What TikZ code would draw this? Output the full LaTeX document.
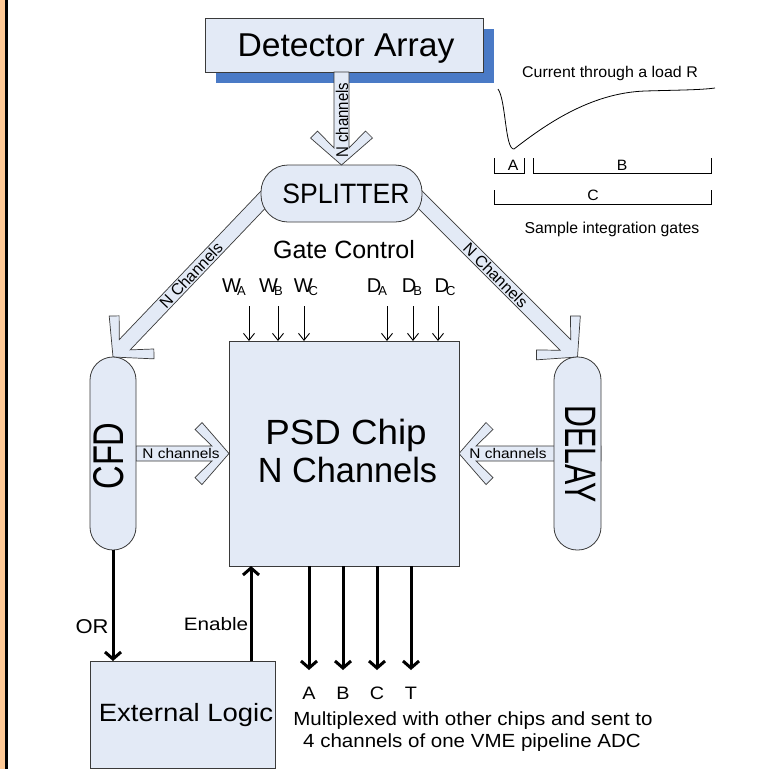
\documentclass[tikz,border=0pt]{standalone}
\usepackage{fontspec}
\setmainfont{Liberation Sans}
\usepackage{graphicx}
\usetikzlibrary{calc,arrows.meta,shadows,backgrounds}
\definecolor{boxC}{HTML}{E3EAF6}
\definecolor{lineC}{HTML}{3A3A3A}
\definecolor{shadowC}{HTML}{4A7AC6}
\definecolor{orangeC}{HTML}{FFC995}
\newcommand\mytxt[3]{\scalebox{#2}[1]{\fontsize{#1}{#1}\selectfont #3}}
\newcommand\blockarrow[2]{%
  \filldraw[barrowstyle] let \p1=(#1), \p2=(#2),
    \n1={atan2(\y2-\y1,\x2-\x1)}, \n2={veclen(\x2-\x1,\y2-\y1)} in
  [shift={(\p2)}, rotate=\n1] (0,0) -- (-27,-31) -- (-34,-24) -- (-17,-7.5)
  -- (-\n2,-7.5) -- (-\n2,7.5) -- (-17,7.5) -- (-34,24) -- (-27,31) -- cycle;}
\begin{document}
\begin{tikzpicture}[x=1pt,y=1pt,
  box/.style={draw=lineC, fill=boxC, line width=0.8pt, inner sep=0pt, outer sep=0pt},
  barrowstyle/.style={draw=lineC, fill=boxC, line width=0.7pt, line join=miter},
  thinarrow/.style={line width=0.9pt, -{Straight Barb[length=7pt,width=11pt]}},
  thickarrow/.style={line width=3pt, -{Straight Barb[length=7pt,width=16pt]}},
  lbl/.style={anchor=base, inner sep=0pt}]
\useasboundingbox (0,0) rectangle (764,-769);
\begin{scope}[on background layer]
\fill[white] (0,0) rectangle (764,-769);
\fill[orangeC] (0,0) rectangle (5,-769);
\fill[black] (5,0) rectangle (7.5,-769);
\end{scope}

% ---------- main blocks ----------
\node[box, general shadow={fill=shadowC, shadow xshift=10.5pt, shadow yshift=-10.5pt},
      minimum width=278, minimum height=54] (det) at (344,-45) {};
\node[lbl] at (346,-56) {\mytxt{33}{1.02}{Detector Array}};

\node[box, rounded corners=27, minimum width=161, minimum height=57] (split) at (341.5,-193.5) {};
\node[lbl] at (346,-203) {\mytxt{28}{0.95}{SPLITTER}};

\node[box, rounded corners=23, minimum width=46, minimum height=193] (cfd) at (113,-453.5) {};
\node[rotate=90, inner sep=0pt] at (108.5,-456) {\mytxt{43}{0.76}{CFD}};

\node[box, rounded corners=23, minimum width=47, minimum height=193] (delay) at (577.5,-453.5) {};
\node[rotate=-90, inner sep=0pt] at (581,-454) {\mytxt{44}{0.69}{DELAY}};

\node[box, minimum width=230, minimum height=225] (psd) at (344,-453.5) {};
\node[lbl] at (346,-444) {\mytxt{35}{1.05}{PSD Chip}};
\node[lbl] at (347.5,-482) {\mytxt{35}{0.98}{N Channels}};

\node[box, minimum width=185, minimum height=107] (ext) at (182.5,-714.5) {};
\node[lbl] at (186,-721) {\mytxt{25}{1.1}{External Logic}};

% ---------- block arrows ----------
\coordinate (dtop) at (split.north |- det.south);
\blockarrow{dtop}{split.north}
\node[rotate=90, inner sep=0pt] at (342,-120) {\mytxt{17}{0.88}{N channels}};

\coordinate (sL) at ($(split.west)+(8,0)$);
\coordinate (sR) at ($(split.east)+(-8,0)$);
\begin{scope}[on background layer]
\blockarrow{sL}{cfd.north}
\blockarrow{sR}{delay.north}
\blockarrow{cfd.east}{psd.west}
\blockarrow{delay.east}{psd.east}
\end{scope}
\path (sL) -- node[pos=0.5, sloped, inner sep=0pt] {\mytxt{16}{1}{N Channels}} (cfd.north);
\path (sR) -- node[pos=0.5, sloped, inner sep=0pt] {\mytxt{16}{1}{N Channels}} (delay.north);
\node[inner sep=0pt] at (181,-453.5) {\mytxt{14}{1.1}{N channels}};
\node[inner sep=0pt] at (508,-453.5) {\mytxt{14}{1.1}{N channels}};

% ---------- gate control ----------
\node[lbl] at (344,-258) {\mytxt{25}{1}{Gate Control}};
\node[lbl] at (234,-292) {\mytxt{20}{1}{W\kern-4pt\raisebox{-3pt}{\fontsize{13}{13}\selectfont A}}};
\node[lbl] at (271,-292) {\mytxt{20}{1}{W\kern-4pt\raisebox{-3pt}{\fontsize{13}{13}\selectfont B}}};
\node[lbl] at (306,-292) {\mytxt{20}{1}{W\kern-4pt\raisebox{-3pt}{\fontsize{13}{13}\selectfont C}}};
\node[lbl] at (377,-292) {\mytxt{20}{1}{D\kern-3pt\raisebox{-3pt}{\fontsize{13}{13}\selectfont A}}};
\node[lbl] at (412,-292) {\mytxt{20}{1}{D\kern-3pt\raisebox{-3pt}{\fontsize{13}{13}\selectfont B}}};
\node[lbl] at (445,-292) {\mytxt{20}{1}{D\kern-3pt\raisebox{-3pt}{\fontsize{13}{13}\selectfont C}}};
\foreach \gx/\gn in {249/wa,278/wb,304/wc,387/da,413/db,438/dc}{
  \coordinate (g\gn) at (\gx,-306);
  \draw[thinarrow] (g\gn) -- (g\gn |- psd.north);
}

% ---------- CFD -> external logic, enable ----------
\draw[thickarrow] (cfd.south) -- (cfd.south |- ext.north);
\node[lbl] at (92,-633) {\mytxt{20}{1.1}{OR}};
\coordinate (en) at ($(ext.north east)+(-24,0)$);
\draw[thickarrow] (en) -- (en |- psd.south);
\node[lbl] at (216,-630) {\mytxt{18}{1.15}{Enable}};

% ---------- outputs ----------
\foreach \ox/\on in {309/A,343/B,377/C,411/T}{
  \coordinate (o\on) at (\ox,-670);
  \draw[thickarrow] (o\on |- psd.south) -- (o\on);
  \node[lbl] at (\ox,-699) {\mytxt{18}{1.1}{\on}};
}
\node[lbl] at (473,-725) {\mytxt{19}{1.08}{Multiplexed with other chips and sent to}};
\node[lbl] at (472,-747) {\mytxt{19}{1.08}{4 channels of one VME pipeline ADC}};

% ---------- pulse and gates ----------
\node[lbl] at (610,-77) {\mytxt{15.5}{1.03}{Current through a load R}};
\draw[line width=0.8pt] (498,-89) .. controls (506,-100) and (505,-150) .. (514,-149)
   .. controls (545,-125) and (590,-93) .. (645,-91)
   .. controls (680,-90) and (700,-90) .. (715,-88);
\draw[line width=1pt] (494,-158) -- (494,-173) -- (524,-173) -- (524,-158);
\draw[line width=1pt] (533,-158) -- (533,-173) -- (711,-173) -- (711,-158);
\draw[line width=1pt] (494,-190) -- (494,-204) -- (711,-204) -- (711,-190);
\node[lbl] at (513,-170) {\mytxt{15}{1.05}{A}};
\node[lbl] at (622,-170) {\mytxt{15}{1.05}{B}};
\node[lbl] at (593,-200) {\mytxt{15}{1.05}{C}};
\node[lbl] at (612,-233) {\mytxt{15.8}{1}{Sample integration gates}};
\end{tikzpicture}
\end{document}
